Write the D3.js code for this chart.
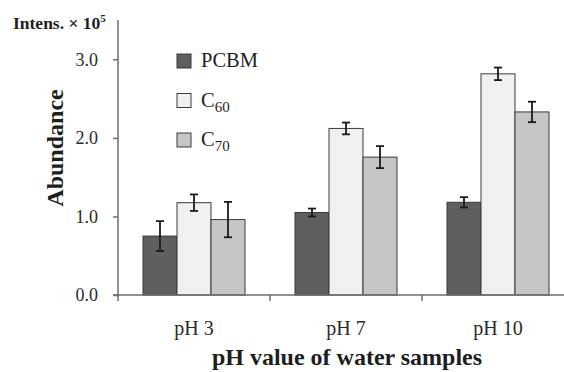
<!DOCTYPE html>
<html>
<head>
<meta charset="utf-8">
<script src="https://cdn.jsdelivr.net/npm/d3@7"></script>
<style>
  html, body { margin: 0; padding: 0; background: #fff; }
  svg { display: block; font-family: "Liberation Serif", "Times New Roman", serif; }
</style>
</head>
<body>
<svg id="chart" width="564" height="372"></svg>
<script>
// Sample groups and fullerene series
const categories = ["pH 3", "pH 7", "pH 10"];
const seriesNames = ["PCBM", "C60", "C70"];
// Mean abundance (×10^5) per series, ordered as categories
const pcbm = [0.75, 1.05, 1.18];
const c60  = [1.175, 2.12, 2.815];
const c70  = [0.96, 1.755, 2.33];
// Error bar half-widths
const pcbmErr = [0.19, 0.05, 0.065];
const c60Err  = [0.105, 0.075, 0.08];
const c70Err  = [0.225, 0.14, 0.13];
const yTicks = [0, 1, 2, 3];

const fills = { PCBM: "#5f5f61", C60: "#eff0f2", C70: "#c5c6c8" };
const seriesData = { PCBM: [pcbm, pcbmErr], C60: [c60, c60Err], C70: [c70, c70Err] };

const svg = d3.select("#chart");
const axisColor = "#6e6e6e";
const textColor = "#1e1e1e";

const x0 = d3.scaleBand().domain(categories).range([118, 574]).padding(0);
const groupPad = 25;
const x1 = d3.scaleBand().domain(seriesNames).range([0, x0.bandwidth() - 2 * groupPad]).padding(0);
const y = d3.scaleLinear().domain([0, 3]).range([295, 59.3]);

// Bars
const rows = [];
categories.forEach((c, i) => {
  seriesNames.forEach(s => {
    rows.push({ cat: c, s, v: seriesData[s][0][i], e: seriesData[s][1][i] });
  });
});

const g = svg.append("g");
g.selectAll("rect.bar").data(rows).join("rect")
  .attr("class", "bar")
  .attr("x", d => x0(d.cat) + groupPad + x1(d.s))
  .attr("y", d => y(d.v))
  .attr("width", x1.bandwidth())
  .attr("height", d => y(0) - y(d.v))
  .attr("fill", d => fills[d.s])
  .attr("stroke", "#3a3a3a")
  .attr("stroke-width", 1);

// Error bars
const eb = g.selectAll("g.err").data(rows).join("g").attr("class", "err")
  .attr("transform", d => `translate(${x0(d.cat) + groupPad + x1(d.s) + x1.bandwidth() / 2},0)`);
eb.append("line").attr("x1", 0).attr("x2", 0)
  .attr("y1", d => y(d.v + d.e)).attr("y2", d => y(d.v - d.e))
  .attr("stroke", "#1a1a1a").attr("stroke-width", 1.8);
eb.append("line").attr("x1", -4).attr("x2", 4)
  .attr("y1", d => y(d.v + d.e)).attr("y2", d => y(d.v + d.e))
  .attr("stroke", "#1a1a1a").attr("stroke-width", 1.8);
eb.append("line").attr("x1", -4).attr("x2", 4)
  .attr("y1", d => y(d.v - d.e)).attr("y2", d => y(d.v - d.e))
  .attr("stroke", "#1a1a1a").attr("stroke-width", 1.8);

// Y axis
const yAxis = d3.axisLeft(y).tickValues(yTicks).tickFormat(d3.format(".1f")).tickSize(5).tickPadding(15);
const yg = svg.append("g").attr("transform", "translate(118,0)").call(yAxis);
yg.select(".domain").remove();
yg.selectAll(".tick line").attr("stroke", axisColor).attr("stroke-width", 1.5);
yg.selectAll(".tick text").attr("fill", "#2a2a2a").style("font-size", "18px")
  .style("font-family", "Liberation Serif, serif");
svg.append("line").attr("x1", 118).attr("x2", 118).attr("y1", 20).attr("y2", 301)
  .attr("stroke", axisColor).attr("stroke-width", 1.5);

// X axis
svg.append("line").attr("x1", 113).attr("x2", 564).attr("y1", y(0)).attr("y2", y(0))
  .attr("stroke", axisColor).attr("stroke-width", 1.5);
svg.selectAll("line.xtick").data(categories.slice(1)).join("line").attr("class", "xtick")
  .attr("x1", d => x0(d)).attr("x2", d => x0(d))
  .attr("y1", y(0)).attr("y2", y(0) + 6)
  .attr("stroke", axisColor).attr("stroke-width", 1.5);
const xAxis = d3.axisBottom(x0).tickSize(0).tickPadding(0);
const xg = svg.append("g").attr("transform", `translate(0,${y(0)})`).call(xAxis);
xg.select(".domain").remove();
xg.selectAll(".tick text").attr("fill", "#2a2a2a").attr("dy", null).attr("y", 40)
  .style("font-size", "20px").style("font-family", "Liberation Serif, serif");

// Axis titles
svg.append("text").attr("x", 347).attr("y", 365).attr("text-anchor", "middle")
  .attr("fill", textColor).style("font-size", "24px").style("font-weight", "bold")
  .text("pH value of water samples");
svg.append("text").attr("transform", "translate(63,148) rotate(-90)").attr("text-anchor", "middle")
  .attr("fill", textColor).style("font-size", "24px").style("font-weight", "bold")
  .text("Abundance");
const unit = svg.append("text").attr("x", 13).attr("y", 29)
  .attr("fill", textColor).style("font-size", "17.5px").style("font-weight", "bold");
unit.append("tspan").text("Intens. \u00d7 10");
unit.append("tspan").attr("dy", -7).style("font-size", "11px").text("5");

// Legend
const legend = svg.selectAll("g.leg").data(seriesNames).join("g").attr("class", "leg")
  .attr("transform", (d, i) => `translate(177,${54 + i * 39.5})`);
legend.append("rect").attr("width", 14).attr("height", 14)
  .attr("fill", d => fills[d]).attr("stroke", "#3a3a3a").attr("stroke-width", 1);
const lt = legend.append("text").attr("x", 24).attr("y", 13)
  .attr("fill", textColor).style("font-size", "20.5px");
lt.each(function(d) {
  const t = d3.select(this);
  const m = d.match(/^([A-Z]+?)(\d+)$/);
  if (m && d !== "PCBM") {
    t.append("tspan").text(m[1]);
    t.append("tspan").attr("dy", 5).style("font-size", "15px").text(m[2]);
  } else {
    t.text(d);
  }
});
</script>
</body>
</html>
